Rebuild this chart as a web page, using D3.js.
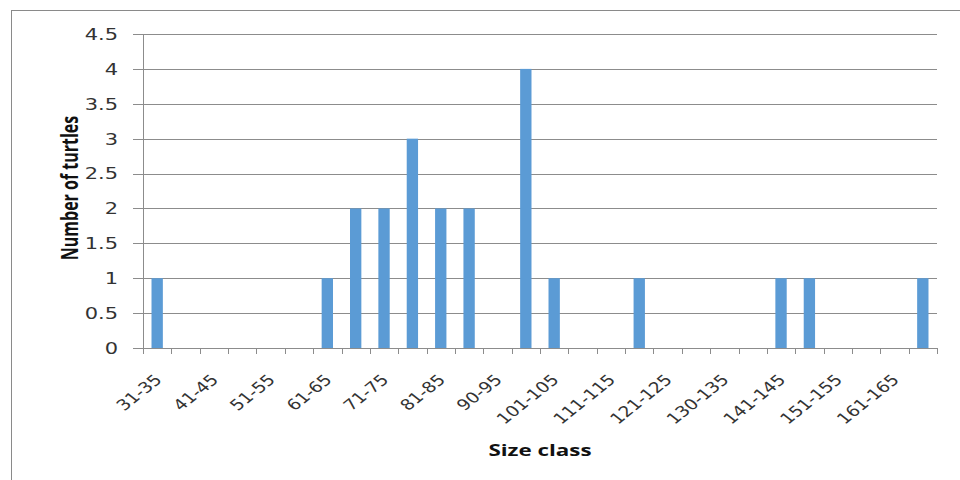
<!DOCTYPE html>
<html>
<head>
<meta charset="utf-8">
<script src="https://cdn.jsdelivr.net/npm/d3@7/dist/d3.min.js"></script>
<style>
  html, body { margin: 0; padding: 0; background: #fff; }
  svg { display: block; }
</style>
</head>
<body>
<svg id="chart" width="960" height="480"></svg>
<script>
// Size classes (cm) of the sampled turtles
const sizeClasses = [
  "31-35", "36-40", "41-45", "46-50", "51-55", "56-60", "61-65", "66-70",
  "71-75", "76-80", "81-85", "86-90", "90-95", "96-100", "101-105", "106-110",
  "111-115", "116-120", "121-125", "126-130", "130-135", "136-140", "141-145",
  "146-150", "151-155", "156-160", "161-165", "166-170"
];
// Number of turtles in each size class
const turtleCounts = [
  1, 0, 0, 0, 0, 0, 1, 2,
  2, 3, 2, 2, 0, 4, 1, 0,
  0, 1, 0, 0, 0, 0, 1,
  1, 0, 0, 0, 1
];
// Classes that carry a visible label on the x axis
const labelledClasses = sizeClasses.filter((d, i) => i % 2 === 0);
// Value axis ticks
const yTicks = [0, 0.5, 1, 1.5, 2, 2.5, 3, 3.5, 4, 4.5];

const svg = d3.select("#chart");
const margin = { left: 143, right: 23, top: 34, bottom: 132 };
const W = 960, H = 480;
const plotRight = W - margin.right;
const plotBottom = H - margin.bottom;
const stretch = 1.4;       // text is drawn wider than tall
const labelStretch = 1.25; // widening used on the slanted class labels
const gridColor = "#8c8c8c";
const textColor = "#333";

// Outer chart frame
svg.append("rect")
  .attr("x", 11.5).attr("y", 10.5)
  .attr("width", 980).attr("height", 500)
  .attr("fill", "none").attr("stroke", "#8a8a8a");

const x = d3.scaleBand()
  .domain(sizeClasses)
  .range([margin.left, plotRight])
  .paddingInner(0.6)
  .paddingOuter(0.3);

const y = d3.scaleLinear()
  .domain([0, 4.5])
  .range([plotBottom, margin.top]);

// Horizontal gridlines plus outward tick marks on the value axis
const yAxis = d3.axisLeft(y)
  .tickValues(yTicks)
  .tickSize(-(plotRight - margin.left))
  .tickSizeOuter(0)
  .tickFormat(d3.format("~g"));

const gy = svg.append("g")
  .attr("transform", `translate(${margin.left},0)`)
  .call(yAxis);
gy.select(".domain").remove();
gy.selectAll(".tick line")
  .attr("x1", -10)
  .attr("stroke", gridColor)
  .attr("shape-rendering", "crispEdges");
gy.selectAll(".tick text")
  .attr("x", 0)
  .attr("dy", "0.36em")
  .attr("transform", `translate(-25,0) scale(${stretch},1)`)
  .attr("fill", textColor)
  .style("font-family", "'DejaVu Sans', sans-serif")
  .style("font-size", "15px");

// Vertical axis line
svg.append("line")
  .attr("x1", margin.left).attr("x2", margin.left)
  .attr("y1", margin.top).attr("y2", plotBottom)
  .attr("stroke", gridColor)
  .attr("shape-rendering", "crispEdges");

// Bars
svg.append("g")
  .selectAll("rect")
  .data(sizeClasses.map((c, i) => ({ c, v: turtleCounts[i] })).filter(d => d.v > 0))
  .join("rect")
  .attr("x", d => x(d.c))
  .attr("y", d => y(d.v))
  .attr("width", x.bandwidth())
  .attr("height", d => y(0) - y(d.v))
  .attr("fill", "#5b9bd5");

// Category axis line with tick marks between the classes
const boundary = d3.scaleLinear()
  .domain([0, sizeClasses.length])
  .range([margin.left, plotRight]);
const gx = svg.append("g");
gx.append("line")
  .attr("x1", margin.left).attr("x2", plotRight)
  .attr("y1", plotBottom).attr("y2", plotBottom)
  .attr("stroke", gridColor)
  .attr("shape-rendering", "crispEdges");
gx.selectAll("line.tick")
  .data(d3.range(sizeClasses.length + 1))
  .join("line")
  .attr("class", "tick")
  .attr("x1", d => Math.round(boundary(d)) + 0.5)
  .attr("x2", d => Math.round(boundary(d)) + 0.5)
  .attr("y1", plotBottom)
  .attr("y2", plotBottom + 6)
  .attr("stroke", gridColor);

// Slanted class labels
const xAxis = d3.axisBottom(x)
  .tickValues(labelledClasses)
  .tickSize(0)
  .tickSizeOuter(0);
const gl = svg.append("g")
  .attr("transform", `translate(0,${plotBottom})`)
  .call(xAxis);
gl.select(".domain").remove();
gl.selectAll(".tick text")
  .attr("x", 0).attr("y", 0)
  .attr("dy", "0.35em")
  .attr("text-anchor", "end")
  .attr("transform", `translate(1,29) scale(${labelStretch},1) rotate(-45)`)
  .attr("fill", textColor)
  .style("font-family", "'DejaVu Sans', sans-serif")
  .style("font-size", "15px");

// Axis titles
svg.append("text")
  .attr("transform", `translate(540,456) scale(${stretch},1)`)
  .attr("text-anchor", "middle")
  .style("font-family", "'Open Sans', sans-serif")
  .style("font-weight", "bold")
  .style("font-size", "16px")
  .attr("fill", "#111")
  .text("Size class");

svg.append("text")
  .attr("transform", `translate(78,188) scale(${stretch},1) rotate(-90)`)
  .attr("text-anchor", "middle")
  .style("font-family", "'Open Sans', sans-serif")
  .style("font-weight", "bold")
  .style("font-size", "16px")
  .attr("fill", "#111")
  .text("Number of turtles");
</script>
</body>
</html>
